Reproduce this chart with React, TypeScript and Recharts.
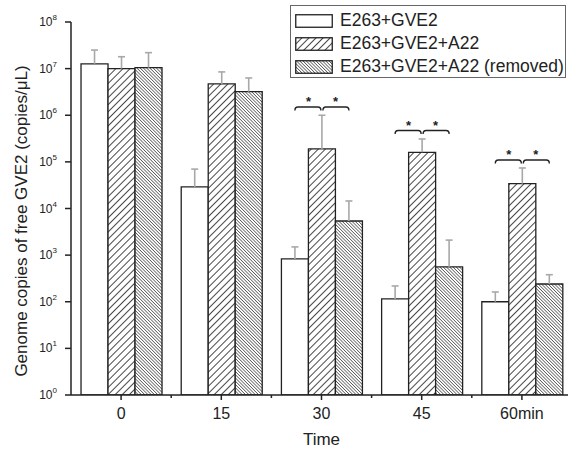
import React from "react";
import { BarChart, Bar, XAxis, YAxis, Legend, LabelList } from "recharts";

// values
const CATEGORIES = ["0", "15", "30", "45", "60min"];
const CTRL = [1.27e7, 2.9e4, 830, 115, 100];
const CTRL_UP = [2.5e7, 7.0e4, 1500, 218, 162];
const A22 = [1.0e7, 4.7e6, 1.9e5, 1.6e5, 3.4e4];
const A22_UP = [1.8e7, 8.5e6, 1.0e6, 3.1e5, 7.4e4];
const REMOVED = [1.05e7, 3.2e6, 5400, 560, 240];
const REMOVED_UP = [2.2e7, 6.3e6, 1.45e4, 2100, 380];
const BRACKET = [null, null, 1.5e6, 4.7e5, 1.1e5];
const Y_TICKS = [1, 10, 1e2, 1e3, 1e4, 1e5, 1e6, 1e7, 1e8];
const SERIES = [
  { key: "ctrl", name: "E263+GVE2", fill: "#ffffff" },
  { key: "a22", name: "E263+GVE2+A22", fill: "url(#hatchA22)" },
  { key: "removed", name: "E263+GVE2+A22 (removed)", fill: "url(#hatchRemoved)" },
];

const FONT = '"Liberation Sans", Arial, sans-serif';
const INK = "#222";
const X_TICK = 5;

const data = CATEGORIES.map((cat, i) => ({
  cat,
  ctrl: CTRL[i],
  ctrlUp: CTRL_UP[i],
  a22: A22[i],
  a22Up: A22_UP[i],
  removed: REMOVED[i],
  removedUp: REMOVED_UP[i],
  bracket: BRACKET[i],
}));

// bar rect spans value 1 (log 0) to its value, so the log scale can be recovered from it
function barScale(vb: any, v: number) {
  const bottom = vb.y + vb.height;
  const ppd = vb.height / Math.log10(v);
  return (val: number) => bottom - Math.log10(val) * ppd;
}

function makeErr(key: string) {
  return (props: any) => {
    const vb = props.viewBox ?? props;
    const row = data[props.index];
    if (!row || props.value == null) return null;
    const yOf = barScale(vb, (row as any)[key]);
    const cx = vb.x + vb.width / 2;
    const top = yOf(props.value);
    return (
      <g stroke="#a8a8a8" strokeWidth={1.6}>
        <line x1={cx} y1={vb.y} x2={cx} y2={top} />
        <line x1={cx - 3.5} y1={top} x2={cx + 3.5} y2={top} />
      </g>
    );
  };
}

function BracketLabel(props: any) {
  const vb = props.viewBox ?? props;
  const row = data[props.index];
  if (!row || props.value == null) return null;
  const yOf = barScale(vb, row.a22);
  const yB = yOf(props.value);
  const w = vb.width;
  const cL = vb.x - w / 2;
  const cM = vb.x + w / 2;
  const cR = vb.x + w * 1.5;
  const seg = (a: number, b: number) =>
    `M${a},${yB + 3.5} Q${a},${yB} ${a + 3},${yB} L${b - 3},${yB} Q${b},${yB} ${b},${yB + 3.5}`;
  return (
    <g>
      <path d={seg(cL, cM - 1)} fill="none" stroke={INK} strokeWidth={1.4} />
      <path d={seg(cM + 1, cR)} fill="none" stroke={INK} strokeWidth={1.4} />
      <text x={(cL + cM) / 2} y={yB - 1} textAnchor="middle" fontSize={13} fontWeight="bold" fill={INK} fontFamily={FONT}>*</text>
      <text x={(cM + cR) / 2} y={yB - 1} textAnchor="middle" fontSize={13} fontWeight="bold" fill={INK} fontFamily={FONT}>*</text>
    </g>
  );
}

function YTick(props: any) {
  const { x, y, payload } = props;
  const exp = Math.round(Math.log10(payload.value));
  return (
    <text x={x} y={y} dy={4} textAnchor="end" fontSize={12} fill={INK} fontFamily={FONT}>
      10<tspan fontSize={8} dy={-6}>{exp}</tspan>
    </text>
  );
}

function XTick(props: any) {
  const { x, y, payload } = props;
  const axisY = y - X_TICK;
  const half = payload.offset ?? 50;
  return (
    <g>
      <line x1={x + half} y1={axisY} x2={x + half} y2={axisY + 3} stroke={INK} strokeWidth={1.5} />
      <text x={x} y={axisY + 24} textAnchor="middle" fontSize={16} fill={INK} fontFamily={FONT}>
        {payload.value}
      </text>
    </g>
  );
}

function Swatch({ fill }: { fill: string }) {
  return (
    <svg width={38} height={14} style={{ display: "block" }}>
      <rect x={0.75} y={0.75} width={36.5} height={12.5} fill={fill} stroke={INK} strokeWidth={1.3} />
    </svg>
  );
}

function LegendBox() {
  return (
    <div
      style={{
        border: "1.5px solid #666",
        boxSizing: "border-box",
        width: 276,
        height: 73,
        padding: "3px 0 0 4px",
        background: "#fff",
        fontFamily: FONT,
        fontSize: 17.5,
        color: INK,
      }}
    >
      {SERIES.map((s) => (
        <div key={s.key} style={{ display: "flex", alignItems: "center", height: 23 }}>
          <Swatch fill={s.fill} />
          <span style={{ marginLeft: 7, whiteSpace: "nowrap" }}>{s.name}</span>
        </div>
      ))}
    </div>
  );
}

export default function App() {
  return (
    <div style={{ position: "absolute", left: 0, top: 0, width: 568, height: 451, overflow: "hidden", background: "#fff" }}>
      <BarChart
        width={572}
        height={451}
        data={data}
        margin={{ top: 22, right: 0, bottom: 0, left: 0 }}
        barCategoryGap="10%"
        barGap={0}
      >
        <defs>
          <pattern id="hatchA22" patternUnits="userSpaceOnUse" width={5} height={5} patternTransform="rotate(45)">
            <rect width={5} height={5} fill="#fff" />
            <rect x={0} y={0} width={0.9} height={5} fill="#333" />
          </pattern>
          <pattern id="hatchRemoved" patternUnits="userSpaceOnUse" width={2.3} height={2.3} patternTransform="rotate(-45)">
            <rect width={2.3} height={2.3} fill="#fff" />
            <rect x={0} y={0} width={0.75} height={2.3} fill="#555" />
          </pattern>
        </defs>
        <XAxis
          dataKey="cat"
          height={56}
          tickSize={X_TICK}
          tickMargin={0}
          tick={<XTick />}
          axisLine={{ stroke: INK, strokeWidth: 1.5 }}
          tickLine={{ stroke: INK, strokeWidth: 1.5 }}
          label={(p: any) => {
            const vb = p.viewBox;
            return (
              <text x={vb.x + vb.width / 2} y={vb.y + 50} textAnchor="middle" fontSize={17} fill={INK} fontFamily={FONT}>
                Time
              </text>
            );
          }}
        />
        <YAxis
          scale="log"
          type="number"
          domain={[1, 1e8]}
          ticks={Y_TICKS}
          allowDataOverflow
          width={71}
          tickSize={6}
          tickMargin={8}
          tick={<YTick />}
          axisLine={{ stroke: INK, strokeWidth: 1.5 }}
          tickLine={{ stroke: INK, strokeWidth: 1.5 }}
          label={() => (
            <text
              x={21}
              y={221}
              transform="rotate(-90, 21, 221)"
              textAnchor="middle"
              dominantBaseline="central"
              fontSize={17}
              fill={INK}
              fontFamily={FONT}
            >
              Genome copies of free GVE2 (copies/μL)
            </text>
          )}
        />
        <Legend
          layout="vertical"
          align="center"
          verticalAlign="middle"
          content={() => <LegendBox />}
          wrapperStyle={{ left: 290, top: 5, width: 276, height: 73 }}
        />
        <Bar dataKey="ctrl" name={SERIES[0].name} fill={SERIES[0].fill} stroke={INK} strokeWidth={1.3} isAnimationActive={false}>
          <LabelList dataKey="ctrlUp" content={makeErr("ctrl")} />
        </Bar>
        <Bar dataKey="a22" name={SERIES[1].name} fill={SERIES[1].fill} stroke={INK} strokeWidth={1.3} isAnimationActive={false}>
          <LabelList dataKey="a22Up" content={makeErr("a22")} />
          <LabelList dataKey="bracket" content={BracketLabel} />
        </Bar>
        <Bar dataKey="removed" name={SERIES[2].name} fill={SERIES[2].fill} stroke={INK} strokeWidth={1.3} isAnimationActive={false}>
          <LabelList dataKey="removedUp" content={makeErr("removed")} />
        </Bar>
      </BarChart>
    </div>
  );
}
